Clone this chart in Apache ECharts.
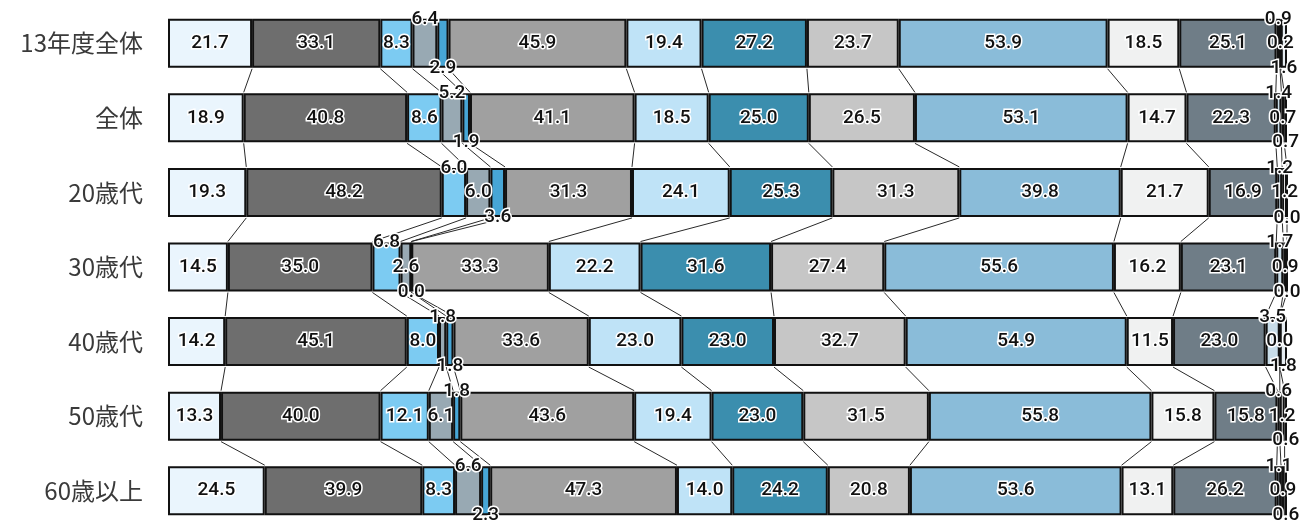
<!DOCTYPE html>
<html>
<head>
<meta charset="utf-8">
<script src="https://cdn.jsdelivr.net/npm/echarts@6/dist/echarts.min.js"></script>
<style>html,body{margin:0;padding:0;background:#fff;}#c{width:1303px;height:528px;}</style>
</head>
<body>
<div id="c"></div>
<script>
const categories = ['13年度全体','全体','20歳代','30歳代','40歳代','50歳代','60歳以上'];
const seg01 = [21.7,18.9,19.3,14.5,14.2,13.3,24.5];
const seg02 = [33.1,40.8,48.2,35.0,45.1,40.0,39.9];
const seg03 = [8.3,8.6,6.0,6.8,8.0,12.1,8.3];
const seg04 = [6.4,5.2,6.0,2.6,1.8,6.1,6.6];
const seg05 = [2.9,1.9,3.6,0.0,1.8,1.8,2.3];
const seg06 = [45.9,41.1,31.3,33.3,33.6,43.6,47.3];
const seg07 = [19.4,18.5,24.1,22.2,23.0,19.4,14.0];
const seg08 = [27.2,25.0,25.3,31.6,23.0,23.0,24.2];
const seg09 = [23.7,26.5,31.3,27.4,32.7,31.5,20.8];
const seg10 = [53.9,53.1,39.8,55.6,54.9,55.8,53.6];
const seg11 = [18.5,14.7,21.7,16.2,11.5,15.8,13.1];
const seg12 = [25.1,22.3,16.9,23.1,23.0,15.8,26.2];
const seg13 = [0.9,1.4,1.2,1.7,3.5,0.6,1.1];
const seg14 = [0.2,0.7,1.2,0.9,0.0,1.2,0.9];
const seg15 = [1.6,0.7,0.0,0.0,1.8,0.6,0.6];

const segments = [seg01,seg02,seg03,seg04,seg05,seg06,seg07,seg08,seg09,seg10,seg11,seg12,seg13,seg14,seg15];

// style config (not data)
const colors = ['#eaf5fd','#6e6e6e','#7ccbf2','#98a9b3','#47a6d6','#a0a0a0','#bfe3f7','#3b8eae',
  '#c6c6c6','#8abcd9','#f0f1f1','#6f7d87','#c8dce8','#ffffff','#e6edf2'];
// label side per row: segment index -> 'top' | 'bot'
const labelSide = [
  {3:'top',4:'bot',12:'top',14:'bot'},
  {3:'top',4:'bot',12:'top',14:'bot'},
  {2:'top',4:'bot',12:'top',14:'bot'},
  {2:'top',4:'bot',12:'top',14:'bot'},
  {3:'top',4:'bot',12:'top',14:'bot'},
  {4:'top',12:'top',14:'bot'},
  {3:'top',4:'bot',12:'top',14:'bot'}
];
const BAR = 49;

const totals = categories.map((_, r) => segments.reduce((s, a) => s + a[r], 0));
const norm = segments.map(a => a.map((v, r) => v / totals[r] * 100));

const series = norm.map((arr, k) => ({
  type: 'bar',
  stack: 'all',
  barWidth: BAR,
  z: 3,
  itemStyle: { color: colors[k], borderColor: '#111', borderWidth: 2 },
  data: arr.map((v, r) => {
    const side = labelSide[r][k];
    const yPos = side === 'top' ? '0%' : side === 'bot' ? '100%' : '50%';
    return { value: v, label: { position: ['50%', yPos], offset: [k >= 12 ? 3 : 0, 0] } };
  }),
  label: {
    show: true,
    align: 'center',
    verticalAlign: 'middle',
    fontFamily: "Roboto,'Noto Sans',sans-serif",
    fontWeight: 500,
    fontSize: 19,
    color: '#111',
    textBorderColor: '#fff',
    textBorderWidth: 3,
    formatter: p => segments[k][p.dataIndex].toFixed(1)
  },
  labelLayout: { hideOverlap: false },
  emphasis: { disabled: true }
}));

// connector lines between consecutive rows at each internal boundary
const cum = norm[0].map((_, r) => {
  const out = []; let s = 0;
  for (let k = 0; k < norm.length - 1; k++) { s += norm[k][r]; out.push(s); }
  return out;
});
const linkData = [];
for (let r = 0; r < categories.length - 1; r++) {
  for (let k = 0; k < cum[r].length; k++) {
    linkData.push([cum[r][k], r, cum[r + 1][k], r + 1]);
  }
}
series.push({
  type: 'custom',
  z: 1,
  silent: true,
  renderItem: (params, api) => {
    const p1 = api.coord([api.value(0), api.value(1)]);
    const p2 = api.coord([api.value(2), api.value(3)]);
    return {
      type: 'line',
      shape: { x1: p1[0], y1: p1[1] + BAR / 2 + 1, x2: p2[0], y2: p2[1] - BAR / 2 - 1 },
      style: { stroke: '#2a2a2a', lineWidth: 1 }
    };
  },
  encode: { x: [0, 2], y: [1, 3] },
  data: linkData
});

const chart = echarts.init(document.getElementById('c'), null, { renderer: 'canvas' });
chart.setOption({
  animation: false,
  backgroundColor: '#fff',
  grid: { left: 168, right: 16, top: 6, height: 528.5 },
  xAxis: { type: 'value', min: 0, max: 100, show: false },
  yAxis: {
    type: 'category', data: categories, inverse: true,
    axisLine: { show: false }, axisTick: { show: false },
    axisLabel: { fontFamily: "'Noto Sans CJK JP',sans-serif", fontSize: 24, color: '#3a3a3a', margin: 25 }
  },
  series: series
});
</script>
</body>
</html>
